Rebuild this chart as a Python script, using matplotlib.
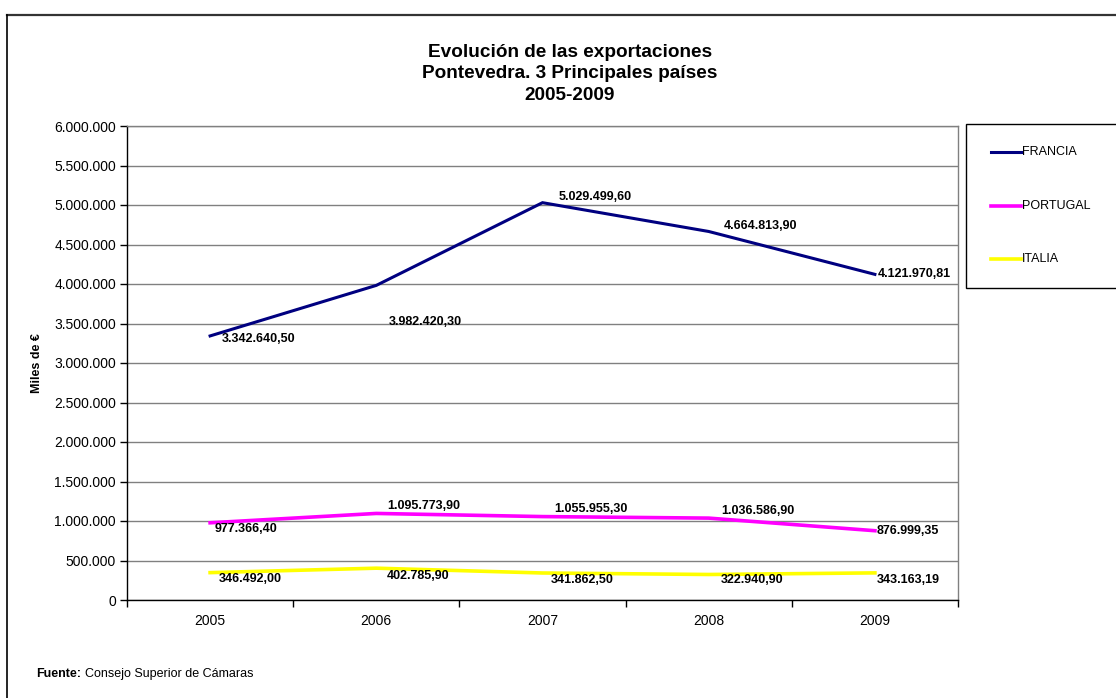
import matplotlib
matplotlib.use("Agg")
import matplotlib.pyplot as plt
from matplotlib.patches import Rectangle
from matplotlib.lines import Line2D
from matplotlib.ticker import FuncFormatter, FixedLocator

plt.rcParams['font.family'] = ['Liberation Sans', 'DejaVu Sans']

years = ["2005", "2006", "2007", "2008", "2009"]
series_names = ["FRANCIA", "PORTUGAL", "ITALIA"]
francia = [3342640.50, 3982420.30, 5029499.60, 4664813.90, 4121970.81]
portugal = [977366.40, 1095773.90, 1055955.30, 1036586.90, 876999.35]
italia = [346492.00, 402785.90, 341862.50, 322940.90, 343163.19]
colors = ["#000080", "#FF00FF", "#FFFF00"]
widths = [2.2, 2.6, 2.6]

# label offsets in pixels (dx, dy)
offsets = [
    [(12, -3), (12, -37), (16, 6), (15, 5), (3, 0)],
    [(5, -6), (11, 7), (12, 8), (13, 7), (2, 0)],
    [(9, -6), (10, -8), (8, -7), (12, -6), (2, -7)],
]

def fmt_int(v, pos=None):
    return f"{int(round(v)):,}".replace(",", ".")

def fmt_dec(v):
    s = f"{v:,.2f}"
    return s.replace(",", "X").replace(".", ",").replace("X", ".")

W, H = 1116, 698
fig = plt.figure(figsize=(W / 100, H / 100), dpi=100)
ax = fig.add_axes([127 / W, 1 - 600 / H, 831 / W, 474 / H])

x = list(range(len(years)))
all_series = [francia, portugal, italia]
for name, vals, c, lw, offs in zip(series_names, all_series, colors, widths, offsets):
    ax.plot(x, vals, color=c, lw=lw, solid_joinstyle='miter', zorder=3, label=name)
    for xi, v, (dx, dy) in zip(x, vals, offs):
        ax.annotate(fmt_dec(v), (xi, v), xytext=(dx, dy), textcoords='offset pixels',
                    ha='left', va='center', fontsize=9, fontweight='bold', color='black', zorder=4)

ax.set_xlim(-0.5, len(years) - 0.5)
ax.set_ylim(0, 6000000)
ax.yaxis.set_major_locator(FixedLocator([i * 500000 for i in range(13)]))
ax.yaxis.set_major_formatter(FuncFormatter(fmt_int))
ax.set_xticks([i - 0.5 for i in range(len(years) + 1)])
ax.set_xticklabels([])
ax.set_xticks(x, minor=True)
ax.set_xticklabels(years, minor=True)
ax.tick_params(axis='x', which='minor', length=0, pad=10, labelsize=10)
ax.tick_params(axis='x', which='major', length=5, width=1, direction='out')
ax.tick_params(axis='y', length=5, width=1, direction='out', labelsize=10, pad=3)
ax.yaxis.grid(True, color='#808080', lw=1)
ax.set_axisbelow(True)
for s in ['top', 'right']:
    ax.spines[s].set_color('#808080')
    ax.spines[s].set_linewidth(1)
for s in ['left', 'bottom']:
    ax.spines[s].set_color('black')
    ax.spines[s].set_linewidth(1)

ax.set_ylabel("Miles de €", fontsize=9, fontweight='bold')
ax.yaxis.set_label_coords(-(127 - 37) / 831, 0.5)
ax.yaxis.label.set_va('center')

# Title
fig.text(570 / W, 1 - 74 / H, "Evolución de las exportaciones\nPontevedra. 3 Principales países\n2005-2009",
         ha='center', va='center', fontsize=13.7, fontweight='bold', linespacing=1.32)

# Source
t1 = fig.text(36 / W, 1 - 674 / H, "Fuente:", ha='left', va='center', fontsize=9, fontweight='bold')
fig.texts.append(matplotlib.text.Annotation("Consejo Superior de Cámaras", xy=(1, 0.5), xycoords=t1,
                                            xytext=(4, 0), textcoords='offset pixels',
                                            ha='left', va='center', fontsize=9))
fig.texts[-1].set_figure(fig)

# Outer frame
fig.add_artist(Line2D([7 / W, 1], [1 - 14.5 / H, 1 - 14.5 / H], transform=fig.transFigure, color='#333333', lw=1.6))
fig.add_artist(Line2D([7 / W, 7 / W], [0, 1 - 14.5 / H], transform=fig.transFigure, color='black', lw=1.2))

# Legend box
fig.add_artist(Rectangle((966 / W, 1 - 288 / H), 200 / W, 164 / H, transform=fig.transFigure,
                         facecolor='white', edgecolor='black', lw=1))
for i, (name, c, lw) in enumerate(zip(series_names, colors, widths)):
    yy = 1 - [152, 206, 259][i] / H
    fig.add_artist(Line2D([991 / W, 1021 / W], [yy, yy], transform=fig.transFigure, color=c, lw=lw))
    fig.text(1022 / W, yy, name, ha='left', va='center', fontsize=9)

fig.savefig("out.png", dpi=100)
